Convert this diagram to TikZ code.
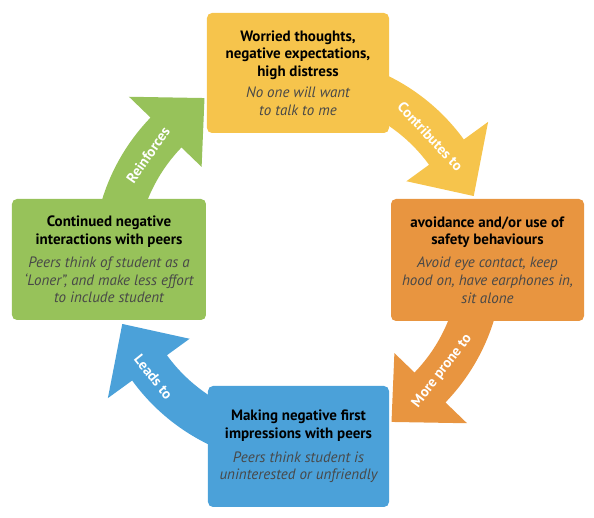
\documentclass[tikz,border=0pt]{standalone}
\usepackage{fontspec}
\setmainfont{PT Sans}
\definecolor{cyellow}{RGB}{246,196,76}
\definecolor{corange}{RGB}{232,149,64}
\definecolor{cblue}{RGB}{75,161,217}
\definecolor{cgreen}{RGB}{151,194,90}
\definecolor{subgray}{RGB}{72,72,72}
\newcommand{\cycarrow}[4]{%
  \fill[#1] (#2:205) arc[start angle=#2, end angle=#3, radius=205] -- (#3:235) -- (#4:187) -- (#3:134) -- (#3:162) arc[start angle=#3, end angle=#2, radius=162] -- cycle;}
\newcommand{\btl}[1]{\textbf{#1}}
\newcommand{\itl}[1]{\textit{\textcolor{subgray}{#1}}}
\tikzset{
  cyclebox/.style={rounded corners=5pt, align=center, inner sep=0pt,
    font=\fontsize{15}{17.8}\selectfont, text=black},
  arrowlabel/.style={text=white, font=\bfseries\fontsize{14.5}{16}\selectfont, inner sep=0pt}
}
\begin{document}
\begin{tikzpicture}[x=1pt,y=1pt]
\useasboundingbox (-298,-258) rectangle (296,260);
% arrows
\cycarrow{cyellow}{75}{36}{20}
\cycarrow{corange}{-5}{-44}{-60}
\cycarrow{cblue}{255}{216}{200}
\cycarrow{cgreen}{170}{136}{120}
% arrow labels
\node[arrowlabel, rotate=-47] (l1) at (43:181) {Contributes to};
\node[arrowlabel, rotate=52.4] (l2) at (-37.6:182) {More prone to};
\node[arrowlabel, rotate=-51.3] (l3) at (219:186) {Leads to};
\node[arrowlabel, rotate=55] (l4) at (145:183) {Reinforces};
% boxes
\node[cyclebox, fill=cyellow, minimum width=182pt, minimum height=120pt] (worry) at (0,187)
  {\btl{Worried thoughts,}\\\btl{negative expectations,}\\\btl{high distress}\\[3pt]\itl{No one will want}\\\itl{to talk to me}};
\node[cyclebox, fill=corange, minimum width=193pt, minimum height=122pt] (avoid) at (189.5,0)
  {\btl{avoidance and/or use of}\\\btl{safety behaviours}\\[5pt]\itl{Avoid eye contact, keep}\\\itl{hood on, have earphones in,}\\\itl{sit alone}};
\node[cyclebox, fill=cblue, minimum width=181pt, minimum height=121pt] (impress) at (0.5,-186.5)
  {\btl{Making negative first}\\\btl{impressions with peers}\\[6pt]\itl{Peers think student is}\\\itl{uninterested or unfriendly}};
\node[cyclebox, fill=cgreen, minimum width=194pt, minimum height=121pt] (contin) at (-189,0.5)
  {\btl{Continued negative}\\\btl{interactions with peers}\\[5pt]\itl{Peers think of student as a}\\\itl{‘Loner”, and make less effort}\\\itl{to include student}};
\end{tikzpicture}
\end{document}
